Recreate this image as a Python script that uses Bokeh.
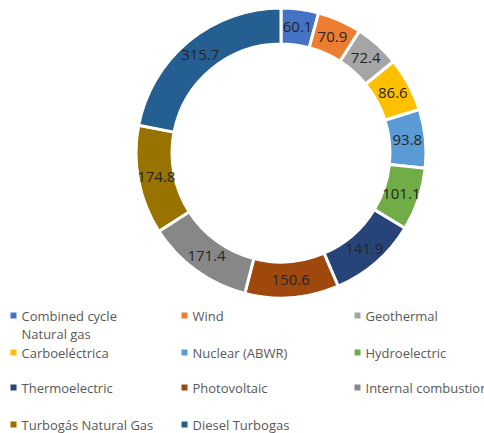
import math
from bokeh.plotting import figure
from bokeh.models import ColumnDataSource, Range1d
from bokeh.core.properties import value
from bokeh.embed import file_html
from bokeh.resources import INLINE

categories = ["Combined cycle\n Natural gas", "Wind", "Geothermal", "Carboeléctrica",
              "Nuclear (ABWR)", "Hydroelectric", "Thermoelectric", "Photovoltaic",
              "Internal combustion", "Turbogás Natural Gas", "Diesel Turbogas"]
values = [60.1, 70.9, 72.4, 86.6, 93.8, 101.1, 141.9, 150.6, 171.4, 174.8, 315.7]
labels = ["60.1", "70.9", "72.4", "86.6", "93.8", "101.1", "141.9", "150.6", "171.4", "174.8", "315.7"]
colors = ["#4472C4", "#ED7D31", "#A5A5A5", "#FFC000", "#5B9BD5", "#70AD47",
          "#264478", "#9E480E", "#878787", "#997300", "#255E91"]

W, H = 484, 433
p = figure(width=W, height=H, output_backend="svg", toolbar_location=None,
           x_range=Range1d(0, W), y_range=Range1d(0, H), min_border=0)
p.axis.visible = False
p.grid.visible = False
p.outline_line_color = None
p.background_fill_color = "white"


def Y(yref):
    return H - yref


def X(xref):
    return xref


cx, cy = X(280.5), Y(152.5)
r_in, r_out = 109, 145
total = sum(values)
starts, ends, lx, ly = [], [], [], []
cum = 0.0
for v in values:
    a0 = math.pi / 2 - cum / total * 2 * math.pi
    cum += v
    a1 = math.pi / 2 - cum / total * 2 * math.pi
    starts.append(a0)
    ends.append(a1)
    mid = (a0 + a1) / 2
    rm = (r_in + r_out) / 2
    lx.append(cx + rm * math.cos(mid))
    ly.append(cy + rm * math.sin(mid))

src = ColumnDataSource(dict(start=starts, end=ends, color=colors, lx=lx, ly=ly, label=labels))
p.annular_wedge(x=cx, y=cy, inner_radius=r_in, outer_radius=r_out,
                start_angle="start", end_angle="end", direction="clock",
                fill_color="color", line_color="white", line_width=3, source=src)
p.text(x="lx", y="ly", text="label", source=src, text_align="center",
       text_baseline="middle", text_font=value("Open Sans"), text_font_size="15px",
       text_color="#262626")

# legend
col_x = [X(13), X(184), X(357)]
row_y = [315, 352, 387, 424]
mx, my, mc, tx, ty, tt = [], [], [], [], [], []
for i, (c, col) in enumerate(zip(categories, colors)):
    r, k = divmod(i, 3)
    mx.append(col_x[k])
    my.append(Y(row_y[r]))
    mc.append(col)
    for j, line in enumerate(c.split("\n")):
        tx.append(col_x[k] + 8)
        ty.append(Y(row_y[r] + 18 * j))
        tt.append(line)
p.scatter(x=mx, y=my, marker="square", size=6, fill_color=mc, line_color=None)
lsrc = ColumnDataSource(dict(x=tx, y=ty, t=tt))
p.text(x="x", y="y", text="t", source=lsrc, text_align="left", text_baseline="middle",
       text_font=value("Open Sans"), text_font_size="13px", text_color="#595959")

open("out.html", "w").write(file_html(p, INLINE))
